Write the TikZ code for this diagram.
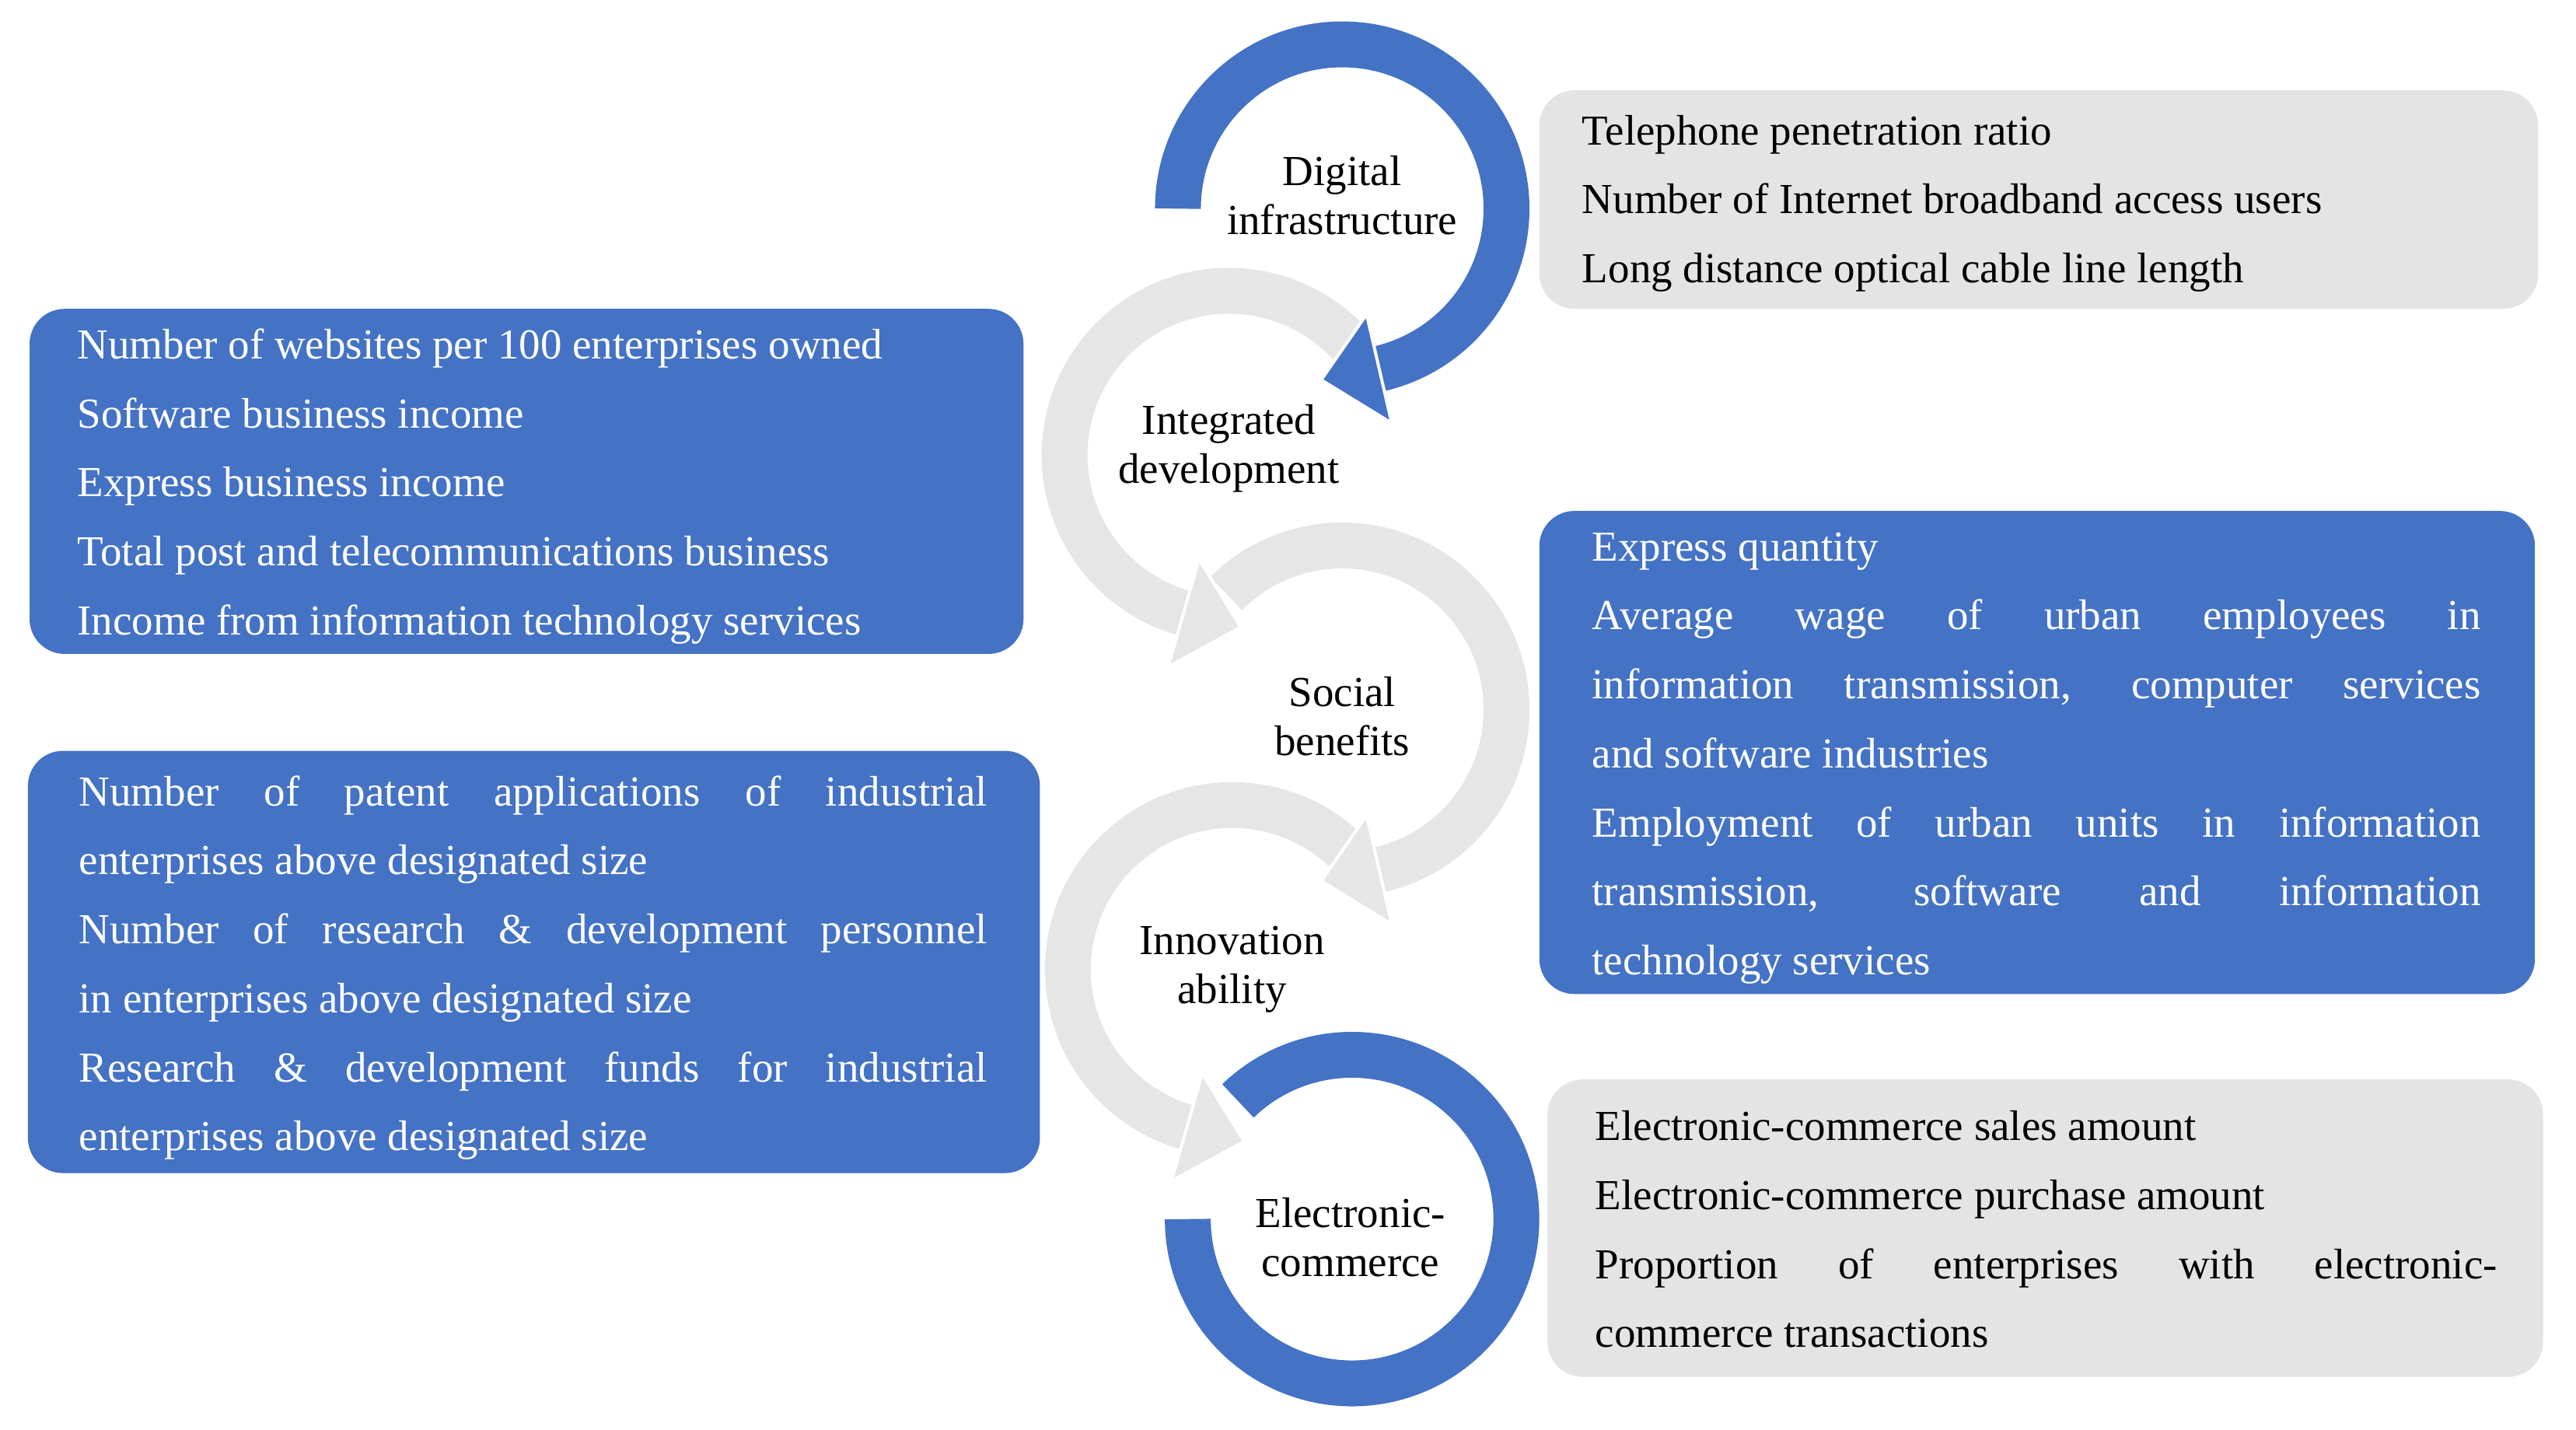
\documentclass[tikz,border=0pt]{standalone}
\usepackage{fontspec}
\setmainfont{Liberation Serif}
\usetikzlibrary{calc}
\definecolor{bl}{HTML}{4472C4}
\definecolor{gbox}{HTML}{E4E4E4}
\definecolor{gring}{HTML}{E6E6E6}
\newcommand\fsz{\fontsize{55}{88.7}\selectfont}
\newcommand\lsz{\fontsize{55}{63}\selectfont}
\tikzset{
  box/.style={rounded corners=45pt},
  txt/.style={anchor=north west,inner sep=0pt,font=\fsz},
  lab/.style={align=center,font=\lsz,inner sep=0pt},
  ring/.style={line width=59pt},
}
% #1 name, #2 color, #3 start, #4 end, #5 arrow sign (+1/-1, 0 none)
\newcommand\ringdraw[5]{%
  \draw[ring,#2] ($(#1)+(#3:100)$) arc[start angle=#3,end angle=#4,radius=100];
  \ifnum#5=0\else
  \fill[#2,draw=white,line width=4pt] ($(#1)+(#4:66)$) -- ($(#1)+(#4:134)$) -- ($(#1)+({#4+#5*20}:105)$) -- cycle;
  \fi}
\begin{document}
\begin{tikzpicture}[x=2.1128pt,y=-2.1128pt]
\useasboundingbox (0,0) rectangle (1568,870);
\coordinate (c1) at (817,127);
\coordinate (c2) at (748,277);
\coordinate (c3) at (817,432);
\coordinate (c4) at (750,590);
\coordinate (c5) at (823,742);
\ringdraw{c5}{bl}{226}{540}{0}
\ringdraw{c4}{gring}{319}{106}{-1}
\ringdraw{c3}{gring}{225}{437}{1}
\ringdraw{c2}{gring}{319}{106}{-1}
\ringdraw{c1}{bl}{180}{437}{1}
\node[lab] (l1) at (817,119) {Digital\\infrastructure};
\node[lab] (l2) at (748,273) {Integrated\\development};
\node[lab] (l3) at (817,436) {Social\\benefits};
\node[lab] (l4) at (750,590) {Innovation\\ability};
\node[lab] (l5) at (822,753) {Electronic-\\commerce};
% boxes
\fill[gbox,box] (937,55) rectangle (1545,188);
\node[txt,align=left] (t1) at (963,70) {Telephone penetration ratio\\Number of Internet broadband access users\\Long distance optical cable line length};
\fill[bl,box] (18,188) rectangle (623,398);
\node[txt,align=left,text=white] (t2) at (47,200) {Number of websites per 100 enterprises owned\\Software business income\\Express business income\\Total post and telecommunications business\\Income from information technology services};
\fill[bl,box] (17,457) rectangle (633,714);
\node[txt,text=white,text width=1168pt,align=justify] (t3) at (48,472) {Number of patent applications of industrial \linebreak enterprises above designated size\par Number of research \& development personnel \linebreak in enterprises above designated size\par Research \& development funds for industrial \linebreak enterprises above designated size};
\fill[bl,box] (937,311) rectangle (1543,605);
\node[txt,text=white,text width=1143pt,align=justify] (t4) at (969,324) {Express quantity\par Average wage of urban employees in \linebreak information transmission, computer services \linebreak and software industries\par Employment of urban units in information \linebreak transmission, software and information \linebreak technology services};
\fill[gbox,box] (942,657) rectangle (1548,838);
\node[txt,text width=1160pt,align=justify] (t5) at (971,676) {Electronic-commerce sales amount\par Electronic-commerce purchase amount\par Proportion of enterprises with electronic- \linebreak commerce transactions};
\end{tikzpicture}
\end{document}
